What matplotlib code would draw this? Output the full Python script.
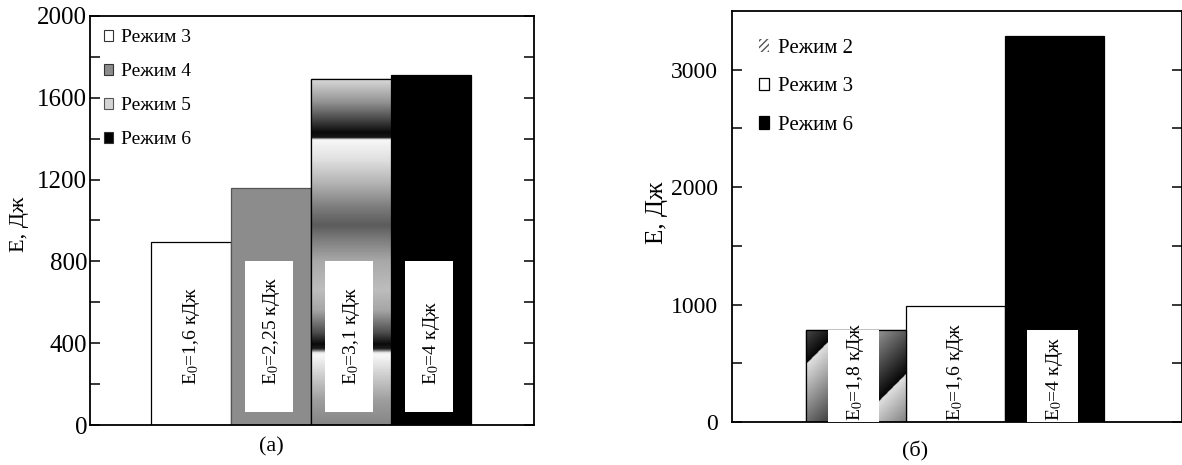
import numpy as np
import matplotlib
matplotlib.use("Agg")
import matplotlib.pyplot as plt
from matplotlib.patches import Patch

plt.rcParams['font.family'] = ['Liberation Serif', 'DejaVu Serif']
plt.rcParams['mathtext.fontset'] = 'stix'

# ---------------- data ----------------
left_modes = ['Режим 3', 'Режим 4', 'Режим 5', 'Режим 6']
left_values = [895, 1160, 1690, 1710]
left_E0 = ['1,6', '2,25', '3,1', '4']

right_modes = ['Режим 2', 'Режим 3', 'Режим 6']
right_values = [780, 985, 3290]
right_E0 = ['1,8', '1,6', '4']

left_yticks = [0, 400, 800, 1200, 1600, 2000]
right_yticks = [0, 1000, 2000, 3000]

# ---------------- styles ----------------
left_face = ['white', '#8c8c8c', '#bdbdbd', 'black']
left_box = [False, True, True, True]
right_face = ['#b0b0b0', 'white', 'black']
right_box = [True, False, True]

# vertical gradient profile for "Режим 5" bar (value, gray level)
G5_V = [0, 120, 250, 340, 352, 372, 395, 450, 560, 660, 800, 900, 975, 1060, 1180, 1300, 1395, 1405, 1430, 1500, 1580, 1690]
G5_G = [0.52, 0.62, 0.82, 0.97, 0.93, 0.12, 0.04, 0.30, 0.65, 0.74, 0.66, 0.50, 0.36, 0.48, 0.70, 0.88, 0.97, 0.10, 0.04, 0.30, 0.58, 0.85]

W, H = 1182, 465
fig = plt.figure(figsize=(W / 100, H / 100), dpi=100)
axL = fig.add_axes([90 / W, 40 / H, 444 / W, 409 / H])
axR = fig.add_axes([732 / W, 43 / H, 450 / W, 411 / H])

for ax in (axL, axR):
    for s in ax.spines.values():
        s.set_linewidth(1.3)
    ax.set_xticks([])
    ax.tick_params(axis='y', which='both', direction='in', length=7, width=1.1,
                   left=True, right=True)

# ---------------- left panel ----------------
xl = np.arange(len(left_values))
bars = axL.bar(xl, left_values, width=1.0, align='edge', color=left_face,
               edgecolor='black', linewidth=0.9, zorder=2)
bars[1].set_edgecolor('#555555')

# gradient fill for Режим 5
b = bars[2]
vv = np.linspace(0, left_values[2], 600)
prof = np.interp(vv, G5_V, G5_G)
img = np.repeat(prof[:, None], 4, axis=1)
im = axL.imshow(img, extent=[b.get_x(), b.get_x() + b.get_width(), 0, left_values[2]],
                origin='lower', cmap='gray', vmin=0, vmax=1, aspect='auto',
                interpolation='bilinear', zorder=2.1)
im.set_clip_path(b)
axL.bar([xl[2]], [left_values[2]], width=1.0, align='edge', facecolor='none',
        edgecolor='black', linewidth=0.9, zorder=2.2)

for i, v in enumerate(left_values):
    if left_box[i]:
        axL.bar(xl[i] + 0.48, 735, bottom=65, width=0.6, color='white', zorder=3)
    axL.text(xl[i] + 0.5, 195, 'E$_0$=' + left_E0[i] + ' кДж', rotation=90,
             ha='center', va='bottom', fontsize=14, zorder=4)

axL.set_xlim(-0.7625, 4.7875)
axL.set_ylim(0, 2000)
axL.set_yticks(left_yticks)
axL.set_yticks(np.arange(200, 2000, 400), minor=True)
axL.set_yticklabels([str(t) for t in left_yticks], fontsize=18)
axL.tick_params(axis='y', which='major', pad=2, labelright=False)
axL.set_ylabel('E, Дж', fontsize=16)
axL.yaxis.set_label_coords(-0.137, 0.49)

hl = [Patch(facecolor=c, edgecolor='#333333', linewidth=0.8) for c in left_face]
hl[2] = Patch(facecolor='#d4d4d4', edgecolor='#555555', linewidth=0.8)
axL.legend(hl, left_modes, loc='upper left', bbox_to_anchor=(0.0315, 0.967),
           frameon=False, fontsize=14, borderpad=0, borderaxespad=0,
           handlelength=0.45, handleheight=0.55, handletextpad=0.42,
           labelspacing=0.87)

# ---------------- right panel ----------------
xr = np.arange(len(right_values))
rbars = axR.bar(xr, right_values, width=1.0, align='edge', color=right_face,
                edgecolor='black', linewidth=0.9, zorder=2)

# diagonal gradient stripes for Режим 2
axR.set_xlim(-0.744, 3.779)
axR.set_ylim(0, 3500)
pxx = 450 / (3.779 + 0.744)
pxv = 411 / 3500
rb = rbars[0]
gx = np.linspace(0, 1, 200)
gv = np.linspace(0, right_values[0], 200)
GX, GV = np.meshgrid(gx, gv)
u = GX * pxx - GV * pxv
t = np.mod(u + 58, 110) / 110
pat = 0.88 - 0.86 * t
im2 = axR.imshow(pat, extent=[rb.get_x(), rb.get_x() + 1, 0, right_values[0]],
                 origin='lower', cmap='gray', vmin=0, vmax=1, aspect='auto',
                 interpolation='bilinear', zorder=2.1)
im2.set_clip_path(rb)
axR.bar([xr[0]], [right_values[0]], width=1.0, align='edge', facecolor='none',
        edgecolor='black', linewidth=0.9, zorder=2.2)

for i, v in enumerate(right_values):
    if right_box[i]:
        axR.bar(xr[i] + 0.48, right_values[0], width=0.51, color='white', zorder=3)
    txt = axR.text(xr[i] + 0.5, 8, 'E$_0$=' + right_E0[i] + ' кДж', rotation=90,
                   ha='center', va='bottom', fontsize=14, zorder=4)
    if i == 0:
        txt.set_clip_path(rbars[0])

axR.set_xlim(-0.744, 3.779)
axR.set_ylim(0, 3500)
axR.set_yticks(right_yticks)
axR.set_yticks([500, 1500, 2500], minor=True)
axR.set_yticklabels([str(t) for t in right_yticks], fontsize=17)
axR.tick_params(axis='y', which='major', pad=10, labelright=False)
axR.set_ylabel('E, Дж', fontsize=18)
axR.yaxis.set_label_coords(-0.142, 0.51)

hr = [Patch(facecolor='white', edgecolor='#555555', hatch='/////', linewidth=0),
      Patch(facecolor='white', edgecolor='black', linewidth=0.9),
      Patch(facecolor='black', edgecolor='black', linewidth=0.9)]
axR.legend(hr, right_modes, loc='upper left', bbox_to_anchor=(0.06, 0.932),
           frameon=False, fontsize=15, borderpad=0, borderaxespad=0,
           handlelength=0.5, handleheight=0.55, handletextpad=0.42,
           labelspacing=0.93)

fig.text(271 / W, 1 - 447 / H, '(а)', ha='center', va='center', fontsize=16)
fig.text(915 / W, 1 - 451 / H, '(б)', ha='center', va='center', fontsize=16)

fig.savefig('out.png', dpi=100)
